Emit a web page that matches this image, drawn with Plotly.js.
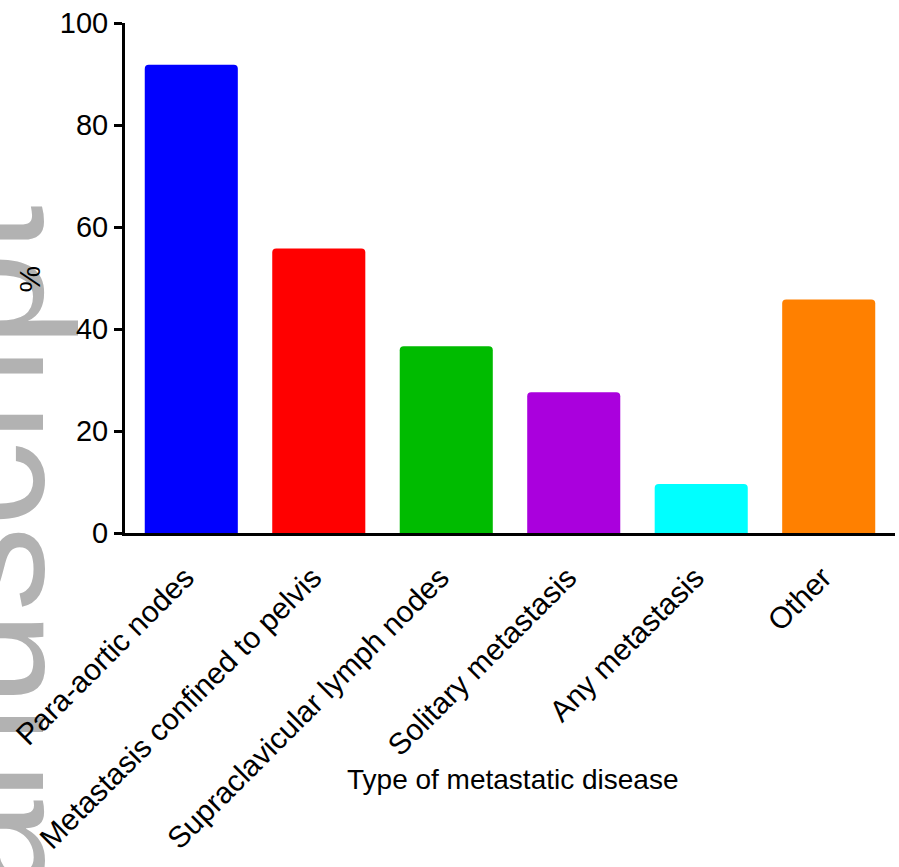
<!DOCTYPE html>
<html>
<head>
<meta charset="utf-8">
<script src="https://cdn.plot.ly/plotly-3.0.1.min.js"></script>
<style>html,body{margin:0;padding:0;background:#fff;}</style>
</head>
<body>
<div id="chart" style="width:899px;height:867px;"></div>
<script>
const categories = ["Para-aortic nodes", "Metastasis confined to pelvis", "Supraclavicular lymph nodes", "Solitary metastasis", "Any metastasis", "Other"];
const percentValues = [91.8, 55.8, 36.6, 27.6, 9.6, 45.8];
const yTickValues = [0, 20, 40, 60, 80, 100];
const barColors = ["#0000ff", "#ff0000", "#00bb00", "#aa00dd", "#00ffff", "#ff8000"];

const FONT = "Liberation Sans, Arial, sans-serif";

const trace = {
  type: "bar",
  x: categories,
  y: percentValues,
  marker: { color: barColors, cornerradius: 4, line: { width: 0 } },
  hoverinfo: "x+y"
};

const layout = {
  width: 899,
  height: 867,
  margin: { l: 125, r: 4, t: 23, b: 334 },
  paper_bgcolor: "#ffffff",
  plot_bgcolor: "rgba(0,0,0,0)",
  showlegend: false,
  bargap: 0.27,
  font: { family: FONT, color: "#000000", size: 28 },
  xaxis: {
    type: "category",
    range: [-0.52, 5.52],
    showline: true,
    linecolor: "#000000",
    linewidth: 3,
    ticks: "",
    tickangle: -45,
    ticklabelstandoff: 12,
    ticklabelshift: -6,
    tickfont: { family: FONT, size: 30, color: "#000000" },
    showgrid: false,
    zeroline: false,
    fixedrange: true
  },
  yaxis: {
    range: [0, 100],
    tickvals: yTickValues,
    ticktext: yTickValues.map(String),
    showline: true,
    linecolor: "#000000",
    linewidth: 3,
    ticks: "outside",
    ticklen: 8,
    tickwidth: 3,
    tickcolor: "#000000",
    tickfont: { family: FONT, size: 29, color: "#000000" },
    showgrid: false,
    zeroline: false,
    fixedrange: true
  },
  shapes: [
    {
      type: "rect",
      layer: "below",
      xref: "paper", yref: "paper",
      x0: -0.2169, x1: -0.1909,
      y0: -0.7294, y1: -0.6902,
      line: { width: 0, color: "rgba(0,0,0,0)" },
      fillcolor: "rgba(0,0,0,0)",
      label: {
        text: "Author Manuscript",
        textposition: "middle center",
        textangle: -90,
        font: { family: FONT, size: 170, color: "#b2b2b2" }
      }
    }
  ],
  annotations: [
    {
      text: "%",
      xref: "paper", yref: "paper",
      x: -0.1234, y: 0.4990,
      xanchor: "center", yanchor: "middle",
      textangle: -90,
      showarrow: false,
      font: { family: FONT, size: 30, color: "#000000" }
    },
    {
      text: "Type of metastatic disease",
      xref: "paper", yref: "paper",
      x: 0.5039, y: -0.484,
      xanchor: "center", yanchor: "middle",
      showarrow: false,
      font: { family: FONT, size: 28, color: "#000000" }
    }
  ]
};

Plotly.newPlot("chart", [trace], layout, { displayModeBar: false, staticPlot: true });
</script>
</body>
</html>
